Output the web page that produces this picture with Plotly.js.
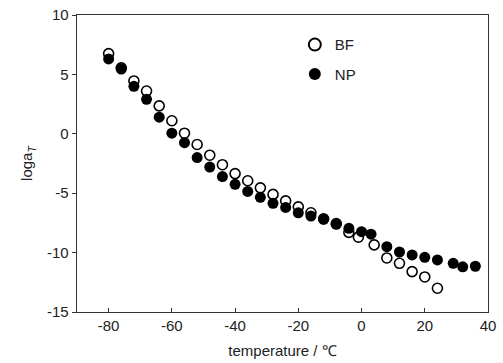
<!DOCTYPE html>
<html>
<head>
<meta charset="utf-8">
<script src="https://cdn.plot.ly/plotly-3.0.1.min.js"></script>
<style>html,body{margin:0;padding:0;background:#fff;}#chart{width:503px;height:363px;}</style>
</head>
<body>
<div id="chart"></div>
<script>
const bfTemp = [-80, -76, -72, -68, -64, -60, -56, -52, -48, -44, -40, -36, -32, -28, -24, -20, -16, -12, -8, -4, -1, 4, 8, 12, 16, 20, 24];
const bfLogA = [6.75, 5.55, 4.45, 3.6, 2.35, 1.1, 0.05, -0.9, -1.8, -2.6, -3.35, -3.95, -4.55, -5.1, -5.65, -6.15, -6.65, -7.15, -7.55, -8.3, -8.7, -9.35, -10.45, -10.9, -11.6, -12.05, -13.0];
const npTemp = [-80, -76, -72, -68, -64, -60, -56, -52, -48, -44, -40, -36, -32, -28, -24, -20, -16, -12, -8, -4, 0, 3, 8, 12, 16, 20, 24, 29, 32, 36];
const npLogA = [6.3, 5.45, 4.0, 2.9, 1.4, 0.05, -0.75, -2.0, -2.8, -3.6, -4.25, -4.85, -5.35, -5.85, -6.2, -6.65, -6.92, -7.2, -7.62, -7.96, -8.24, -8.45, -9.5, -9.95, -10.2, -10.4, -10.62, -10.9, -11.2, -11.15];
const seriesNames = ["BF", "NP"];
const xTickVals = [-80, -60, -40, -20, 0, 20, 40];
const xTickText = ["-80", "-60", "-40", "-20", "0", "20", "40"];
const yTickVals = [-15, -10, -5, 0, 5, 10];
const yTickText = ["-15", "-10", "-5", "0", "5", "10"];

const traces = [
  {
    x: bfTemp, y: bfLogA, name: seriesNames[0], legendgroup: "g1", type: "scatter", mode: "markers",
    marker: {symbol: "circle-open", size: 10, color: "#000", line: {width: 1.6, color: "#000"}}
  },
  {
    x: npTemp, y: npLogA, name: seriesNames[1], legendgroup: "g2", type: "scatter", mode: "markers",
    marker: {symbol: "circle", size: 11, color: "#000", line: {width: 0}}
  }
];

const layout = {
  width: 503, height: 363,
  margin: {l: 77, r: 15, t: 15, b: 51},
  paper_bgcolor: "#fff", plot_bgcolor: "#fff",
  font: {family: "Liberation Sans, Arial, sans-serif", size: 14, color: "#222"},
  showlegend: true,
  legend: {x: 0.53, y: 0.955, xanchor: "left", yanchor: "top", bgcolor: "rgba(0,0,0,0)",
           font: {size: 15, color: "#222"}, traceorder: "grouped", tracegroupgap: 7, itemsizing: "constant"},
  xaxis: {
    range: [-90, 40], tickvals: xTickVals, ticktext: xTickText,
    ticks: "inside", ticklen: 4, tickcolor: "#333", tickwidth: 1,
    showline: true, linecolor: "#333", linewidth: 1.3, mirror: true,
    showgrid: false, zeroline: false,
    tickfont: {size: 15, color: "#222"},
    title: {text: "temperature / ℃", font: {size: 15, color: "#222"}, standoff: 12}
  },
  yaxis: {
    range: [-15, 10], tickvals: yTickVals, ticktext: yTickText,
    ticks: "outside", ticklen: 4, tickcolor: "#333", tickwidth: 1,
    showline: true, linecolor: "#333", linewidth: 1.3, mirror: true,
    showgrid: false, zeroline: false,
    tickfont: {size: 15, color: "#222"},
    title: {text: "loga<sub><i>T</i></sub>", font: {size: 15, color: "#222"}, standoff: 10}
  }
};

Plotly.newPlot("chart", traces, layout, {displayModeBar: false, staticPlot: true});
</script>
</body>
</html>
